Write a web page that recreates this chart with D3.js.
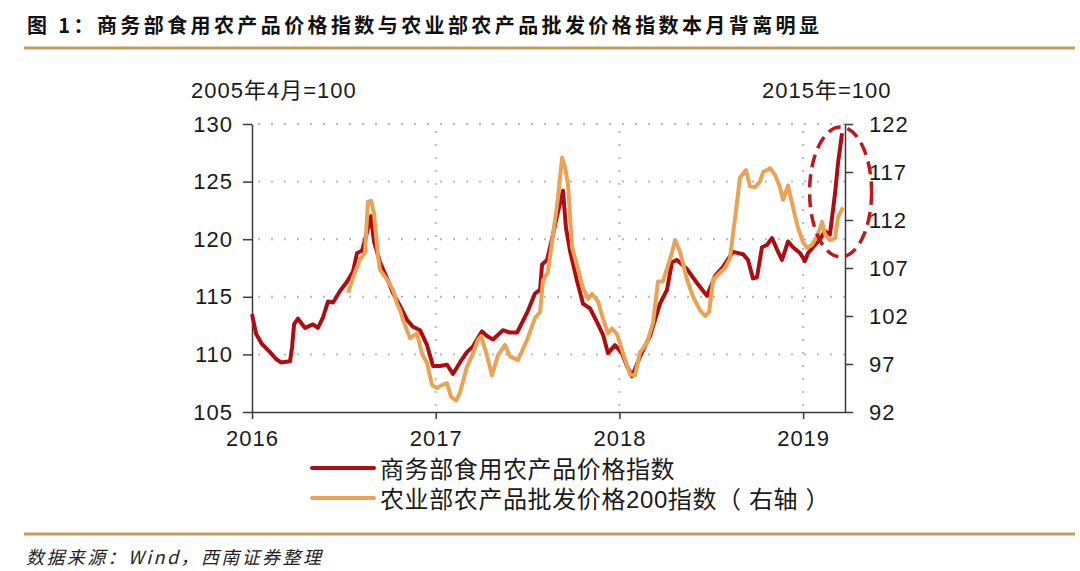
<!DOCTYPE html>
<html>
<head>
<meta charset="utf-8">
<script src="https://cdn.jsdelivr.net/npm/d3@7"></script>
<style>
  body { margin: 0; background: #fff; }
  svg { display: block; }
  .tick text { font-family: "Liberation Sans", Arial, "Noto Sans CJK SC", sans-serif; font-size: 22px; fill: #1a1a1a; letter-spacing: 1px; }
  .tick line, .domain { stroke: #3a3a3a; stroke-width: 1.5; }
</style>
</head>
<body>
<svg id="chart" width="1080" height="571"></svg>
<script>
// year ticks, axis ticks
var yearTicks = [2016, 2017, 2018, 2019];
var leftTicks = [105, 110, 115, 120, 125, 130];
var rightTicks = [92, 97, 102, 107, 112, 117, 122];

// 商务部食用农产品价格指数 (left axis), time as decimal year
var redDates = [2016.000, 2016.022, 2016.054, 2016.098, 2016.131, 2016.158, 2016.207, 2016.218, 2016.229, 2016.250,
  2016.289, 2016.332, 2016.359, 2016.386, 2016.414, 2016.441, 2016.479, 2016.517, 2016.550, 2016.572,
  2016.599, 2016.626, 2016.648, 2016.664, 2016.697, 2016.735, 2016.768, 2016.806, 2016.844, 2016.876,
  2016.915, 2016.953, 2016.985,
  2017.023, 2017.062, 2017.094, 2017.132, 2017.170, 2017.203, 2017.252, 2017.279, 2017.312, 2017.366,
  2017.404, 2017.443, 2017.497, 2017.541, 2017.568, 2017.579, 2017.606, 2017.633, 2017.660, 2017.693,
  2017.709, 2017.731, 2017.769, 2017.802, 2017.840, 2017.878, 2017.911, 2017.938, 2017.976,
  2018.014, 2018.041, 2018.069, 2018.112, 2018.167, 2018.221, 2018.259, 2018.286, 2018.314, 2018.368,
  2018.422, 2018.477, 2018.520, 2018.564, 2018.618, 2018.673, 2018.700, 2018.727, 2018.749, 2018.776,
  2018.803, 2018.831, 2018.858, 2018.885, 2018.918, 2018.945, 2018.983,
  2019.010, 2019.027, 2019.054, 2019.092, 2019.119, 2019.146, 2019.174, 2019.190, 2019.212];
var redValues = [113.5, 111.8, 110.9, 110.2, 109.6, 109.3, 109.4, 110.6, 112.6, 113.1,
  112.3, 112.6, 112.3, 113.2, 114.6, 114.5, 115.5, 116.3, 117.2, 118.8,
  119.0, 120.6, 122.0, 119.8, 118.0, 116.6, 115.3, 114.2, 113.0, 112.4,
  112.1, 110.8, 109.0,
  109.0, 109.1, 108.3, 109.3, 110.2, 110.7, 112.0, 111.6, 111.3, 112.1,
  111.9, 111.9, 113.6, 115.3, 115.6, 117.8, 118.2, 120.0, 122.0, 124.2,
  121.0, 119.0, 116.4, 114.4, 114.0, 112.8, 111.7, 110.1, 110.8,
  110.1, 109.0, 108.1, 109.8, 111.6, 114.4, 115.6, 118.0, 118.2, 117.4,
  116.2, 115.1, 116.8, 117.6, 118.9, 118.7, 118.2, 116.6, 116.7, 119.3,
  119.5, 120.1, 119.1, 118.2, 119.8, 119.3, 118.8,
  118.1, 118.8, 119.3, 120.0, 120.7, 120.4, 124.0, 126.6, 129.2];

// 农业部农产品批发价格200指数 (right axis)
var orangeDates = [2016.523, 2016.550, 2016.588, 2016.615, 2016.631, 2016.648, 2016.664, 2016.686, 2016.697, 2016.735,
  2016.768, 2016.789, 2016.806, 2016.822, 2016.860, 2016.898, 2016.925, 2016.953, 2016.980,
  2017.007, 2017.034, 2017.062, 2017.083, 2017.111, 2017.132, 2017.170, 2017.203, 2017.230, 2017.247,
  2017.279, 2017.306, 2017.339, 2017.377, 2017.404, 2017.448, 2017.497, 2017.541, 2017.568, 2017.584,
  2017.611, 2017.639, 2017.666, 2017.688, 2017.704, 2017.720, 2017.742, 2017.769, 2017.802, 2017.829,
  2017.851, 2017.884, 2017.911, 2017.938, 2017.960, 2017.987,
  2018.020, 2018.058, 2018.085, 2018.112, 2018.150, 2018.183, 2018.210, 2018.237, 2018.265, 2018.286,
  2018.303, 2018.330, 2018.368, 2018.401, 2018.439, 2018.466, 2018.488, 2018.510, 2018.537, 2018.575,
  2018.602, 2018.618, 2018.640, 2018.656, 2018.689, 2018.711, 2018.738, 2018.765, 2018.782, 2018.820,
  2018.847, 2018.874, 2018.891, 2018.918, 2018.945, 2018.972, 2018.999,
  2019.021, 2019.048, 2019.076, 2019.103, 2019.119, 2019.146, 2019.174, 2019.190, 2019.217];
var orangeValues = [104.4, 106.0, 107.9, 108.6, 113.9, 114.0, 112.7, 108.2, 106.8, 105.8,
  104.7, 103.3, 102.6, 101.6, 99.7, 100.2, 98.1, 97.1, 94.8,
  94.5, 94.8, 95.0, 93.6, 93.2, 94.0, 96.7, 98.1, 99.5, 99.9,
  97.9, 95.8, 97.9, 99.0, 97.8, 97.4, 99.5, 101.8, 102.4, 105.7,
  106.6, 110.5, 114.4, 118.5, 117.5, 115.7, 109.2, 107.3, 104.9, 103.8,
  104.3, 103.5, 101.7, 100.2, 100.7, 100.1,
  98.1, 95.9, 95.8, 98.2, 99.2, 101.3, 105.6, 105.6, 107.3, 108.6,
  109.9, 108.7, 105.8, 104.0, 102.6, 102.0, 102.4, 105.8, 106.3, 107.0,
  108.0, 110.5, 113.8, 116.4, 117.2, 115.5, 115.4, 116.0, 117.0, 117.4,
  116.7, 115.4, 114.1, 115.6, 113.3, 111.2, 109.7,
  109.1, 109.4, 110.3, 111.8, 110.5, 109.9, 110.1, 112.3, 113.3];

var seriesNames = ['商务部食用农产品价格指数', '农业部农产品批发价格200指数（ 右轴 ）'];
var seriesColors = ['#af0c12', '#eaa356'];

var svg = d3.select('#chart');
var margin = {top: 124, right: 235, bottom: 159, left: 252};
var width = 1080 - margin.left - margin.right,
    height = 571 - margin.top - margin.bottom;

var x = d3.scaleLinear().domain([2016, 2019.228]).range([margin.left, margin.left + width]);
var yL = d3.scaleLinear().domain([105, 130]).range([margin.top + height, margin.top]);
var yR = d3.scaleLinear().domain([92, 122]).range([margin.top + height, margin.top]);

//title + rules
svg.append('text')
  .attr('x', 27).attr('y', 33)
  .style('font-family', '"Noto Sans CJK SC", sans-serif')
  .style('font-weight', 700)
  .style('font-size', '20px')
  .style('letter-spacing', '3.4px')
  .attr('fill', '#111')
  .text('图 1：商务部食用农产品价格指数与农业部农产品批发价格指数本月背离明显');

[48, 534].forEach(function(yy) {
  svg.append('line')
    .attr('x1', 24).attr('x2', 1075).attr('y1', yy).attr('y2', yy)
    .attr('stroke', '#c69c5c').attr('stroke-width', 3);
});

svg.append('text')
  .attr('x', 26).attr('y', 564)
  .style('font-family', '"Noto Sans CJK SC", sans-serif')
  .style('font-style', 'italic')
  .style('font-size', '18px')
  .style('letter-spacing', '2.4px')
  .attr('fill', '#222')
  .text('数据来源：Wind，西南证券整理');

//dotted grid
var grid = svg.append('g').attr('stroke', '#b9b9b9').attr('stroke-width', 2).attr('stroke-dasharray', '2,11');
grid.selectAll('line.h')
  .data(leftTicks.slice(1))
  .enter().append('line')
  .attr('x1', x(2016) + 6).attr('x2', x.range()[1])
  .attr('y1', function(d) { return yL(d); }).attr('y2', function(d) { return yL(d); });
grid.selectAll('line.v')
  .data(yearTicks.slice(1))
  .enter().append('line')
  .attr('x1', function(d) { return x(d); }).attr('x2', function(d) { return x(d); })
  .attr('y1', yL(105) - 6).attr('y2', yL(130));

//axes
svg.append('g')
  .attr('transform', 'translate(' + margin.left + ',0)')
  .call(d3.axisLeft(yL).tickValues(leftTicks).tickSize(9).tickSizeOuter(0).tickPadding(10));
svg.append('g')
  .attr('transform', 'translate(' + (margin.left + width) + ',0)')
  .call(d3.axisRight(yR).tickValues(rightTicks).tickSize(8).tickSizeOuter(0).tickPadding(16));
svg.append('g')
  .attr('transform', 'translate(0,' + (margin.top + height) + ')')
  .call(d3.axisBottom(x).tickValues(yearTicks).tickFormat(d3.format('d')).tickSize(7).tickSizeOuter(0).tickPadding(11));

//unit labels
svg.append('text').attr('x', 191).attr('y', 98)
  .style('font-family', '"Liberation Sans", Arial, "Noto Sans CJK SC", sans-serif')
  .style('font-size', '22px').style('letter-spacing', '1px').attr('fill', '#1a1a1a')
  .text('2005年4月=100');
svg.append('text').attr('x', 762).attr('y', 98)
  .style('font-family', '"Liberation Sans", Arial, "Noto Sans CJK SC", sans-serif')
  .style('font-size', '22px').style('letter-spacing', '1px').attr('fill', '#1a1a1a')
  .text('2015年=100');

//lines
var redData = d3.zip(redDates, redValues);
var orangeData = d3.zip(orangeDates, orangeValues);

svg.append('path')
  .datum(redData)
  .attr('fill', 'none').attr('stroke', seriesColors[0]).attr('stroke-width', 4)
  .attr('stroke-linejoin', 'round')
  .attr('d', d3.line().x(function(d) { return x(d[0]); }).y(function(d) { return yL(d[1]); }));

svg.append('path')
  .datum(orangeData)
  .attr('fill', 'none').attr('stroke', seriesColors[1]).attr('stroke-width', 4)
  .attr('stroke-linejoin', 'round')
  .attr('d', d3.line().x(function(d) { return x(d[0]); }).y(function(d) { return yR(d[1]); }));

//highlight ellipse round the latest move
svg.append('ellipse')
  .attr('cx', x(2019.204)).attr('cy', yL(124.1))
  .attr('rx', 31).attr('ry', 65)
  .attr('fill', 'none').attr('stroke', '#c0161e').attr('stroke-width', 3.5)
  .attr('stroke-dasharray', '13,7');

//legend
var legend = svg.append('g').selectAll('g')
  .data(seriesNames)
  .enter().append('g')
  .attr('transform', function(d, i) { return 'translate(312,' + (468 + i * 30) + ')'; });
legend.append('line')
  .attr('x1', 0).attr('x2', 62)
  .attr('stroke-linecap', 'round')
  .attr('stroke', function(d, i) { return seriesColors[i]; }).attr('stroke-width', 4);
legend.append('text')
  .attr('x', 68).attr('dy', '0.42em')
  .style('font-family', '"Liberation Sans", Arial, "Noto Sans CJK SC", sans-serif')
  .style('font-size', '24px').style('letter-spacing', '0.6px').attr('fill', '#1a1a1a')
  .text(function(d) { return d; });
</script>
</body>
</html>
